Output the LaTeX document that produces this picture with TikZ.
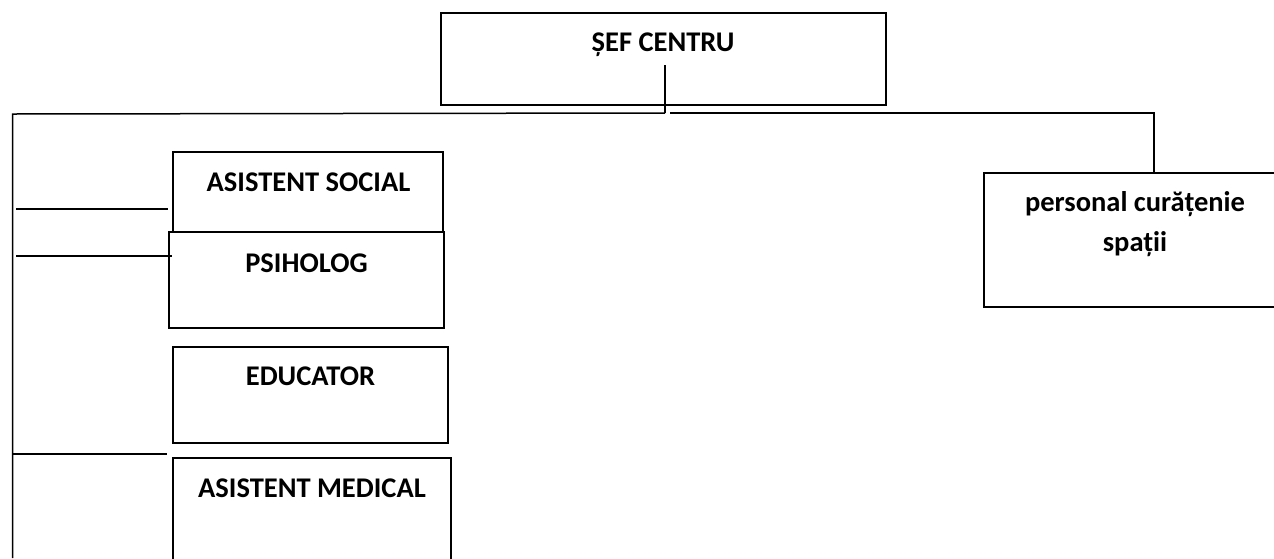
\documentclass[tikz,border=0pt]{standalone}
\usepackage{fontspec}
\setmainfont{Carlito}
\begin{document}
\begin{tikzpicture}[x=1pt,y=-1pt,
  box/.style={draw, line width=1.5pt, rectangle, inner sep=0pt},
  lbl/.style={font=\fontsize{28.5}{40}\selectfont\bfseries, anchor=base, inner sep=0pt},
  conn/.style={line width=1.5pt}]
\useasboundingbox (0,0) rectangle (1274,558);
\clip (0,0) rectangle (1274,558);
% boxes
\node[box, minimum width=445pt, minimum height=92pt] (sef) at (663.5,59) {};
\node[box, minimum width=270pt, minimum height=80pt] (as) at (308,192) {};
\node[box, minimum width=275pt, minimum height=96pt] (ps) at (306.5,280) {};
\node[box, minimum width=275pt, minimum height=96pt] (ed) at (310.5,395) {};
\node[box, minimum width=278pt, minimum height=142pt] (am) at (312,529) {};
\node[box, minimum width=306pt, minimum height=134pt] (pc) at (1137,240) {};
% labels
\node[lbl] (tsef) at (663,51) {ȘEF CENTRU};
\node[lbl] (tas) at (308.5,191) {ASISTENT SOCIAL};
\node[lbl] (tps) at (306.5,272) {PSIHOLOG};
\node[lbl] (ted) at (310.5,385) {EDUCATOR};
\node[lbl] (tam) at (312,497) {ASISTENT MEDICAL};
\node[lbl] (tpc1) at (1135,211.5) {personal curățenie};
\node[lbl] (tpc2) at (1135,251.5) {spații};
% connectors
\coordinate (sefj) at (665,65);
\coordinate (j) at (665,113);
\coordinate (busL) at (12.7,114);
\coordinate (busR) at (1154,113);
\coordinate (bot) at (12.7,558);
\draw[conn] (sefj) -- (j);
\draw[conn] (bot) -- (busL) -- (j);
\draw[conn] ([xshift=5pt]j) -- (busR) -- (busR |- pc.north);
\coordinate (b1) at (16,209);
\coordinate (b2) at (16,256);
\coordinate (b3) at (12.7,454);
\draw[conn] (b1) -- ([xshift=-4pt]b1 -| as.west);
\draw[conn] (b2) -- ([xshift=4pt]b2 -| ps.west);
\draw[conn] (b3) -- ([xshift=-5pt]b3 -| am.west);
\end{tikzpicture}
\end{document}
